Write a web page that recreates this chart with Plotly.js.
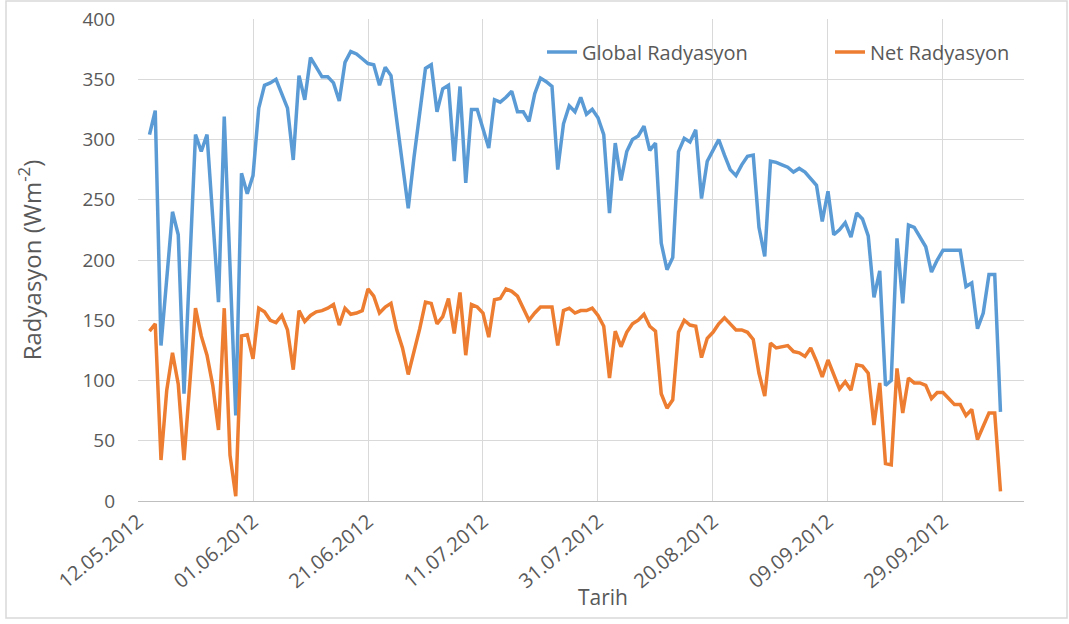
<!DOCTYPE html>
<html>
<head>
<meta charset="utf-8">
<script src="https://cdn.plot.ly/plotly-3.0.1.min.js"></script>
<style>
  html, body { margin: 0; padding: 0; background: #ffffff; }
  #chart { width: 1069px; height: 624px; }
</style>
</head>
<body>
<div id="chart"></div>
<script>
// ---- Data (daily values, 14.05.2012 .. 09.10.2012) ----
const startDate = '2012-05-14';
const globalRad = [
  304, 324, 129, 185, 240, 221, 89, 196, 304, 290,
  304, 235, 165, 319, 195, 71, 272, 255, 270, 326,
  345, 347, 350, 337, 326, 283, 353, 333, 368, 360,
  352, 352, 347, 332, 364, 373, 371, 367, 363, 362,
  345, 360, 353, 316, 280, 243, 285, 325, 359, 362,
  323, 342, 345, 282, 344, 264, 325, 325, 309, 293,
  333, 331, 335, 340, 323, 323, 315, 338, 351, 348,
  344, 275, 313, 328, 323, 335, 321, 325, 318, 304,
  239, 297, 266, 290, 300, 303, 311, 291, 297, 214,
  192, 202, 290, 301, 298, 308, 251, 282, 291, 300,
  287, 275, 270, 279, 286, 287, 227, 203, 282, 281,
  279, 277, 273, 276, 273, 268, 262, 232, 257, 221,
  225, 231, 219, 239, 234, 220, 169, 191, 96, 100,
  218, 164, 229, 227, 219, 211, 190, 200, 208, 208,
  208, 208, 178, 181, 143, 156, 188, 188, 74
];
const netRad = [
  141, 147, 34, 92, 123, 97, 34, 97, 160, 137,
  121, 96, 59, 160, 38, 4, 137, 138, 118, 160,
  157, 150, 148, 154, 142, 109, 158, 149, 154, 157,
  158, 160, 163, 146, 160, 155, 156, 158, 176, 170,
  156, 161, 164, 142, 127, 105, 123, 143, 165, 164,
  147, 153, 168, 139, 173, 121, 163, 161, 156, 136,
  167, 168, 176, 174, 170, 160, 150, 156, 161, 161,
  161, 129, 158, 160, 156, 158, 158, 160, 154, 145,
  102, 141, 128, 140, 147, 150, 155, 145, 141, 89,
  77, 84, 140, 150, 146, 145, 119, 135, 140, 147,
  152, 147, 142, 142, 140, 134, 106, 87, 131, 127,
  128, 129, 124, 123, 120, 127, 116, 103, 117, 105,
  93, 99, 92, 113, 112, 106, 63, 98, 31, 30,
  110, 73, 102, 98, 98, 96, 85, 90, 90, 85,
  80, 80, 71, 76, 51, 62, 73, 73, 8
];
const tickDates = ['2012-05-12', '2012-06-01', '2012-06-21', '2012-07-11',
                   '2012-07-31', '2012-08-20', '2012-09-09', '2012-09-29'];
const tickLabels = ['12.05.2012', '01.06.2012', '21.06.2012', '11.07.2012',
                    '31.07.2012', '20.08.2012', '09.09.2012', '29.09.2012'];
const seriesNames = ['Global Radyasyon', 'Net Radyasyon'];
const yTicks = [0, 50, 100, 150, 200, 250, 300, 350, 400];

// consecutive daily dates for the series
function dayList(start, n) {
  const out = [];
  const t0 = Date.UTC(+start.slice(0,4), +start.slice(5,7) - 1, +start.slice(8,10));
  for (let i = 0; i < n; i++) {
    const d = new Date(t0 + i * 86400000);
    out.push(d.toISOString().slice(0, 10));
  }
  return out;
}
const dates = dayList(startDate, globalRad.length);

const FONT = 'Open Sans, Noto Sans, sans-serif';
const TXT = '#595959';
const GRID = '#d9d9d9';

// pixel helpers for paper coordinates (plot area 138..1024 x, 19..501 y)
const L = 138, R = 1024, T = 19, B = 501;
const px = x => (x - L) / (R - L);
const py = y => (B - y) / (B - T);

const traces = [
  { x: dates, y: globalRad, name: seriesNames[0], type: 'scatter', mode: 'lines',
    line: { color: '#5B9BD5', width: 3.5 }, legend: 'legend' },
  { x: dates, y: netRad, name: seriesNames[1], type: 'scatter', mode: 'lines',
    line: { color: '#ED7D31', width: 3.5 }, legend: 'legend2' }
];

const legendBase = {
  orientation: 'h', xanchor: 'left', y: py(52), yanchor: 'middle',
  font: { family: FONT, size: 20, color: TXT }, bgcolor: 'rgba(0,0,0,0)'
};

const layout = {
  width: 1069, height: 624,
  margin: { l: L, r: 1069 - R, t: T, b: 624 - B, pad: 0 },
  paper_bgcolor: '#ffffff', plot_bgcolor: '#ffffff',
  font: { family: FONT, color: TXT, size: 18 },
  showlegend: true,
  legend: Object.assign({}, legendBase, { x: px(542) }),
  legend2: Object.assign({}, legendBase, { x: px(830) }),
  xaxis: {
    type: 'date',
    range: ['2012-05-12', '2012-10-13 02:10'],
    tickmode: 'array', tickvals: tickDates, ticktext: tickLabels,
    tickangle: -40, tickfont: { family: FONT, size: 20, color: TXT },
    showgrid: true, gridcolor: GRID, gridwidth: 1,
    showline: true, linecolor: '#bfbfbf', linewidth: 1,
    zeroline: false, ticks: '', automargin: false
  },
  yaxis: {
    range: [0, 400], tickmode: 'array', tickvals: yTicks,
    tickfont: { family: FONT, size: 19, color: TXT },
    showgrid: true, gridcolor: GRID, gridwidth: 1,
    zeroline: false, showline: false, ticks: '', ticklabelstandoff: 22,
    automargin: false,
    title: { text: 'Radyasyon (Wm<sup>-2</sup>)', font: { family: FONT, size: 24, color: TXT }, standoff: 34 }
  },
  annotations: [
    { text: 'Tarih', xref: 'paper', yref: 'paper', x: px(603), y: py(597),
      xanchor: 'center', yanchor: 'middle', showarrow: false,
      font: { family: FONT, size: 21, color: TXT } }
  ],
  shapes: [
    { type: 'rect', xref: 'paper', yref: 'paper',
      x0: px(6), x1: px(1067), y0: py(618), y1: py(1),
      line: { color: '#d9d9d9', width: 1.5 }, fillcolor: 'rgba(0,0,0,0)', layer: 'below' }
  ]
};

Plotly.newPlot('chart', traces, layout, { staticPlot: true, displayModeBar: false });
</script>
</body>
</html>
